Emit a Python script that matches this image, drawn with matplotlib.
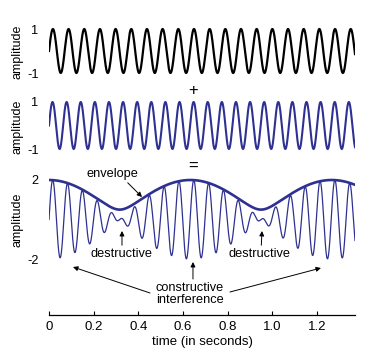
import numpy as np
import matplotlib
matplotlib.use("Agg")
import matplotlib.pyplot as plt

plt.rcParams['font.family'] = ['Liberation Sans', 'DejaVu Sans']

# ---- data ----
t_end = 1.37            # seconds shown
freq_top = 14.25        # Hz, black wave
freq_mid = 15.83        # Hz, blue wave
amp_top = 1.0
amp_mid = 1.0
env_max = 2.0           # envelope at constructive points
env_min = 0.5           # envelope at destructive points
xticks = [0, 0.2, 0.4, 0.6, 0.8, 1.0, 1.2]
xtick_labels = ["0", "0.2", "0.4", "0.6", "0.8", "1.0", "1.2"]
ytick_small = [-1, 1]
ytick_big = [-2, 2]

t = np.linspace(0, t_end, 3000)
w_top = amp_top * np.sin(2 * np.pi * freq_top * t)
w_mid = amp_mid * np.sin(2 * np.pi * freq_mid * t)
w_sum = w_top + w_mid
beat = np.cos(np.pi * (freq_mid - freq_top) * t)
envelope = np.sqrt((env_max**2 - env_min**2) * beat**2 + env_min**2)

W, H = 370, 360
fig = plt.figure(figsize=(W / 100, H / 100), dpi=100)

blue = '#2e3192'
x0_px, x1_px = 49, 355


def add_ax(top_px, bot_px):
    return fig.add_axes([x0_px / W, 1 - bot_px / H, (x1_px - x0_px) / W, (bot_px - top_px) / H])


def style(ax):
    for s in ax.spines.values():
        s.set_visible(False)
    ax.set_xticks([])
    ax.tick_params(axis='y', length=0, pad=7.5, labelsize=9.2)
    ax.set_xlim(0, t_end)
    ax.patch.set_visible(False)


# top panel: 1 -> 29 px, -1 -> 73 px
ax1 = add_ax(29 - 0.15 * 22, 73 + 0.15 * 22)
ax1.plot(t, w_top, color='black', lw=1.6)
ax1.set_ylim(-1.15, 1.15)
style(ax1)
ax1.set_yticks(ytick_small, ["-1", "1"])

# middle panel: 1 -> 102 px, -1 -> 149 px
ax2 = add_ax(102 - 0.15 * 23.5, 149 + 0.15 * 23.5)
ax2.plot(t, w_mid, color=blue, lw=1.5)
ax2.set_ylim(-1.15, 1.15)
style(ax2)
ax2.set_yticks(ytick_small, ["-1", "1"])

# bottom panel: 2 -> 180 px, -2 -> 259 px, axis line at 315 px
u = 19.75
ylo = -2 - (315 - 259) / u
yhi = 2.3
ax3 = add_ax(180 - 0.3 * u, 315)
ax3.plot(t, w_sum, color=blue, lw=0.9)
ax3.plot(t, envelope, color=blue, lw=1.9)
ax3.set_ylim(ylo, yhi)
style(ax3)
ax3.spines['bottom'].set_visible(True)
ax3.spines['bottom'].set_linewidth(0.9)
ax3.set_yticks(ytick_big, ["-2", "2"])
ax3.set_xticks(xticks, xtick_labels)
ax3.tick_params(axis='x', direction='in', length=3, width=0.8, labelsize=9.5, pad=4)
ax3.set_xlabel("time (in seconds)", fontsize=9.5, labelpad=2.5)


def px2d(px, py):
    return ((px - x0_px) / 223.4, 2 - (py - 180) / u)


arw = dict(arrowstyle='-|>', color='black', lw=0.7, mutation_scale=7, shrinkA=0, shrinkB=0)
fs = 9.2
ax3.annotate("envelope", xy=px2d(142, 197), xytext=px2d(112, 174), fontsize=fs,
             ha='center', va='center', arrowprops=dict(arw, relpos=(0.75, 0)))
ax3.annotate("destructive", xy=px2d(122, 231), xytext=px2d(122, 254), fontsize=fs,
             ha='center', va='center', arrowprops=dict(arw, relpos=(0.5, 1)))
ax3.annotate("destructive", xy=px2d(262, 231), xytext=px2d(260, 254), fontsize=fs,
             ha='center', va='center', arrowprops=dict(arw, relpos=(0.52, 1)))
ax3.text(*px2d(190, 294), "constructive\ninterference", fontsize=fs, ha='center',
         va='center', linespacing=1.05)
ax3.annotate("", xy=px2d(73, 267), xytext=px2d(150, 293), arrowprops=arw)
ax3.annotate("", xy=px2d(321, 268), xytext=px2d(230, 292), arrowprops=arw)
ax3.annotate("", xy=px2d(193, 262), xytext=px2d(193, 279), arrowprops=arw)

# "+" and "=" signs
fig.text(193 / W, 1 - 90 / H, "+", fontsize=12, ha='center', va='center')
fig.text(193 / W, 1 - 166 / H, "=", fontsize=12, ha='center', va='center')

# y labels
for cy in (51.5, 127, 219.5):
    fig.text(18 / W, 1 - cy / H, "amplitude", fontsize=9, rotation=90, ha='center', va='center')

fig.savefig("out.png", dpi=100)
